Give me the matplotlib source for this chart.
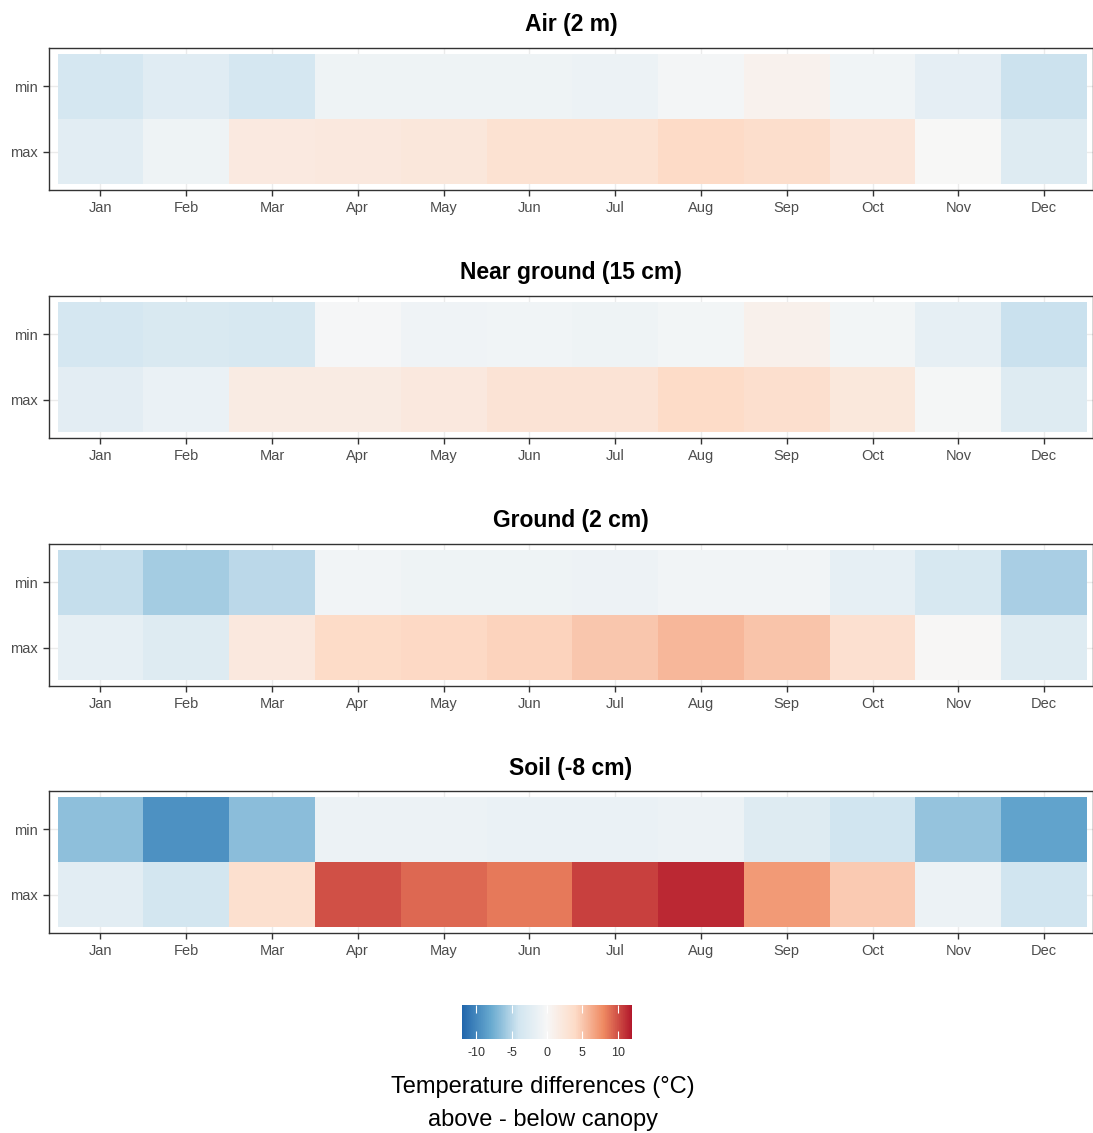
import numpy as np
import matplotlib
matplotlib.use("Agg")
import matplotlib.pyplot as plt
from matplotlib.colors import LinearSegmentedColormap, Normalize

plt.rcParams['font.family'] = ['Liberation Sans', 'DejaVu Sans']

months = ["Jan", "Feb", "Mar", "Apr", "May", "Jun", "Jul", "Aug", "Sep", "Oct", "Nov", "Dec"]
stats = ["max", "min"]
titles = ["Air (2 m)", "Near ground (15 cm)", "Ground (2 cm)", "Soil (-8 cm)"]

air_min = [-3.6, -2.4, -3.5, -1.0, -1.0, -1.0, -1.2, -0.4, 0.8, -0.7, -1.9, -4.2]
air_max = [-2.2, -1.0, 1.9, 2.1, 2.3, 3.0, 3.0, 4.0, 3.6, 2.4, 0.0, -2.6]
near_min = [-3.5, -3.1, -3.3, -0.2, -0.8, -0.7, -1.0, -0.5, 1.0, -0.5, -1.8, -4.3]
near_max = [-2.1, -1.4, 1.6, 1.6, 2.1, 2.9, 2.9, 3.9, 3.4, 2.2, -0.3, -2.7]
ground_min = [-4.5, -5.7, -4.8, -0.6, -1.0, -1.0, -1.1, -0.6, -0.6, -1.8, -3.3, -5.5]
ground_max = [-1.8, -2.7, 2.1, 3.9, 4.1, 4.4, 5.0, 5.8, 5.1, 3.2, 0.1, -2.7]
soil_min = [-6.5, -9.4, -6.6, -1.2, -1.2, -1.4, -1.4, -1.2, -2.7, -4.0, -6.2, -8.3]
soil_max = [-2.2, -3.8, 3.3, 10.0, 9.1, 8.6, 10.5, 11.4, 7.2, 4.8, -1.2, -4.0]

panels = [(air_min, air_max), (near_min, near_max), (ground_min, ground_max), (soil_min, soil_max)]

rdbu7 = ["#2166AC", "#67A9CF", "#D1E5F0", "#F7F7F7", "#FDDBC7", "#EF8A62", "#B2182B"]
cmap = LinearSegmentedColormap.from_list("rdbu_r", rdbu7, N=256)
norm = Normalize(vmin=-12, vmax=12)

W, H = 1093, 1133
fig = plt.figure(figsize=(W / 100, H / 100), dpi=100)

def fx(px):
    return px / W

def fy(py):
    return 1 - py / H

ax_left, ax_right = 49, 1093
tops = [48, 296, 544, 791]
ax_h = 142
title_y = [25, 273, 520, 768]

xe = np.arange(0.5, 13.0, 1.0)
ye = np.array([0.5, 1.5, 2.5])
mesh = None
for i, (vmin_row, vmax_row) in enumerate(panels):
    t = tops[i]
    ax = fig.add_axes([fx(ax_left), fy(t + ax_h), fx(ax_right - ax_left), ax_h / H])
    Z = np.array([vmax_row, vmin_row])
    mesh = ax.pcolormesh(xe, ye, Z, cmap=cmap, norm=norm, zorder=2, antialiased=False, linewidth=0)
    ax.set_xlim(0.4, 12.57)
    ax.set_ylim(0.41, 2.59)
    ax.set_xticks(range(1, 13))
    ax.set_xticklabels(months)
    ax.set_yticks([1, 2])
    ax.set_yticklabels(stats)
    ax.grid(True, color="#EBEBEB", linewidth=1.0, zorder=0)
    ax.set_axisbelow(True)
    for s in ax.spines.values():
        s.set_color("#333333")
        s.set_linewidth(1.0)
    ax.tick_params(axis="both", direction="out", length=4, width=1, color="#333333",
                   labelsize=10.5, labelcolor="#4D4D4D", pad=4)
    fig.text(fx((ax_left + ax_right) / 2), fy(title_y[i]), titles[i], ha="center", va="center",
             fontsize=16.5, fontweight="bold", color="black")

cax = fig.add_axes([fx(462), fy(1039), fx(632 - 462), 34 / H])
cb = fig.colorbar(mesh, cax=cax, orientation="horizontal", ticks=[-10, -5, 0, 5, 10])
cb.outline.set_visible(False)
cax.tick_params(axis="x", direction="in", length=6, width=0.8, color="white",
                labelsize=9, labelcolor="#333333", pad=6, top=True, bottom=True)
cb.ax.set_xticklabels(["-10", "-5", "0", "5", "10"])

fig.text(fx(543), fy(1087), "Temperature differences (°C)", ha="center", va="center", fontsize=17)
fig.text(fx(543), fy(1120), "above - below canopy", ha="center", va="center", fontsize=17)

fig.savefig("out.png", dpi=100, facecolor="white")
